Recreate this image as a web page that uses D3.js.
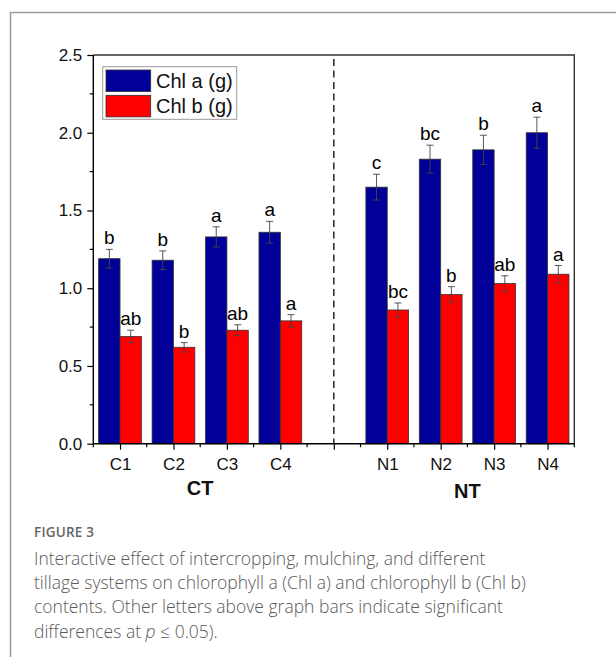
<!DOCTYPE html>
<html>
<head>
<meta charset="utf-8">
<script src="https://cdn.jsdelivr.net/npm/d3@7"></script>
<style>
  html, body { margin: 0; padding: 0; background: #fff; }
  svg { display: block; }
</style>
</head>
<body>
<svg id="fig" width="616" height="657"></svg>
<script>
// Treatments and their measured chlorophyll contents
const categories = ["C1", "C2", "C3", "C4", "N1", "N2", "N3", "N4"];
const positions  = [1, 2, 3, 4, 6, 7, 8, 9];   // slot 5 holds the CT / NT divider
const chlA       = [1.19, 1.18, 1.33, 1.36, 1.65, 1.83, 1.89, 2.00];
const chlAErr    = [0.06, 0.06, 0.065, 0.07, 0.083, 0.09, 0.094, 0.10];
const chlB       = [0.69, 0.62, 0.73, 0.79, 0.86, 0.96, 1.03, 1.09];
const chlBErr    = [0.04, 0.03, 0.035, 0.04, 0.045, 0.05, 0.05, 0.056];
const chlALetters = ["b", "b", "a", "a", "c", "bc", "b", "a"];
const chlBLetters = ["ab", "b", "ab", "a", "bc", "b", "ab", "a"];
const seriesNames = ["Chl a (g)", "Chl b (g)"];
const yTicks = [0.0, 0.5, 1.0, 1.5, 2.0, 2.5];
const groups = [{ name: "CT", at: 2.5 }, { name: "NT", at: 7.5 }];

const colors = ["#000099", "#ff0000"];
const svg = d3.select("#fig");

// Outer figure frame
svg.append("path")
  .attr("d", "M10.5,700 V12.5 H700")
  .attr("fill", "none").attr("stroke", "#9a9a9a").attr("stroke-width", 1.5);

const plotL = 93.3, plotR = 574.3, plotT = 55, plotB = 443.7;
const x = d3.scaleLinear().domain([0.5, 9.5]).range([plotL, plotR]);
const y = d3.scaleLinear().domain([0, 2.5]).range([plotB, plotT]);
const slot = x(2) - x(1);
const barW = slot * 0.4;

const tickFont = "'Liberation Sans', Arial, sans-serif";

// Frame top/right
svg.append("path")
  .attr("d", `M${plotL},${plotT} H${plotR} V${plotB}`)
  .attr("fill", "none").attr("stroke", "#333").attr("stroke-width", 1.4);

// Divider between tillage systems
svg.append("line")
  .attr("x1", x(5)).attr("x2", x(5)).attr("y1", plotT + 4).attr("y2", plotB)
  .attr("stroke", "#333").attr("stroke-width", 1.6).attr("stroke-dasharray", "7,4.5");

// Bars
const data = categories.map((c, i) => ({
  c, pos: positions[i],
  vals: [
    { v: chlA[i], e: chlAErr[i], l: chlALetters[i], s: 0 },
    { v: chlB[i], e: chlBErr[i], l: chlBLetters[i], s: 1 }
  ]
}));

const g = svg.append("g");
data.forEach(d => {
  d.vals.forEach(b => {
    const x0 = b.s === 0 ? x(d.pos) - barW : x(d.pos);
    const cx = x0 + barW / 2;
    g.append("rect")
      .attr("x", x0).attr("y", y(b.v))
      .attr("width", barW).attr("height", y(0) - y(b.v))
      .attr("fill", colors[b.s]).attr("stroke", "#333").attr("stroke-width", 0.8);
    // error bar
    const eg = g.append("g").attr("stroke", "#444").attr("stroke-width", 0.9);
    eg.append("line").attr("x1", cx).attr("x2", cx).attr("y1", y(b.v + b.e)).attr("y2", y(b.v - b.e));
    eg.append("line").attr("x1", cx - 3.5).attr("x2", cx + 3.5).attr("y1", y(b.v + b.e)).attr("y2", y(b.v + b.e));
    eg.append("line").attr("x1", cx - 3.5).attr("x2", cx + 3.5).attr("y1", y(b.v - b.e)).attr("y2", y(b.v - b.e));
    // significance letter
    g.append("text")
      .attr("x", cx).attr("y", y(b.v + b.e) - 5)
      .attr("text-anchor", "middle")
      .attr("font-family", tickFont).attr("font-size", 19)
      .attr("fill", "#000")
      .text(b.l);
  });
});

// Y axis
const yAxis = d3.axisLeft(y).tickValues(yTicks).tickFormat(d3.format(".1f")).tickSize(6).tickPadding(5);
const ya = svg.append("g").attr("transform", `translate(${plotL},0)`).call(yAxis);
ya.select(".domain").attr("stroke", "#000").attr("stroke-width", 1.4).attr("d", `M0,${plotT}V${plotB}`);
ya.selectAll(".tick line").attr("stroke", "#000").attr("stroke-width", 1.2);
ya.selectAll(".tick text").attr("font-family", tickFont).attr("font-size", 17).attr("fill", "#111");
const yMinor = d3.range(0.25, 2.5, 0.5);
svg.append("g").selectAll("line").data(yMinor).join("line")
  .attr("x1", plotL - 3.5).attr("x2", plotL).attr("y1", d => y(d)).attr("y2", d => y(d))
  .attr("stroke", "#000").attr("stroke-width", 1.2);

// X axis
const xAxis = d3.axisBottom(x)
  .tickValues(d3.range(1, 10))
  .tickFormat(d => { const i = positions.indexOf(d); return i >= 0 ? categories[i] : ""; })
  .tickSize(6).tickPadding(8);
const xa = svg.append("g").attr("transform", `translate(0,${plotB})`).call(xAxis);
xa.select(".domain").attr("stroke", "#000").attr("stroke-width", 1.4).attr("d", `M${plotL},0H${plotR}`);
xa.selectAll(".tick line").attr("stroke", "#000").attr("stroke-width", 1.2);
xa.selectAll(".tick text").attr("font-family", tickFont).attr("font-size", 17).attr("fill", "#111");
const xMinor = d3.range(0.5, 10, 1);
svg.append("g").selectAll("line").data(xMinor).join("line")
  .attr("x1", d => x(d)).attr("x2", d => x(d)).attr("y1", plotB).attr("y2", plotB + 3.5)
  .attr("stroke", "#000").attr("stroke-width", 1.2);

// Group labels
svg.append("g").selectAll("text").data(groups).join("text")
  .attr("x", d => x(d.at)).attr("y", (d, i) => 495 + i * 3)
  .attr("text-anchor", "middle")
  .attr("font-family", tickFont).attr("font-weight", "bold").attr("font-size", 20)
  .attr("fill", "#111")
  .text(d => d.name);

// Legend
const lg = svg.append("g");
lg.append("rect").attr("x", 102.7).attr("y", 66.7).attr("width", 134).attr("height", 52.6)
  .attr("fill", "#fff").attr("stroke", "#999").attr("stroke-width", 1);
seriesNames.forEach((n, i) => {
  lg.append("rect").attr("x", 106).attr("y", 70 + i * 25.3).attr("width", 44.7).attr("height", 21.6)
    .attr("fill", colors[i]).attr("stroke", "#333").attr("stroke-width", 0.8);
  lg.append("text").attr("x", 156).attr("y", 88 + i * 25.3)
    .attr("font-family", tickFont).attr("font-size", 20).attr("fill", "#111")
    .text(n);
});

// Caption
const capFont = "'Open Sans', 'Noto Sans', sans-serif";
svg.append("text").attr("x", 34).attr("y", 537)
  .attr("font-family", capFont).attr("font-size", 13.5).attr("font-weight", 600)
  .attr("fill", "#666").attr("letter-spacing", 0.2)
  .text("FIGURE 3");
const capLines = [
  "Interactive effect of intercropping, mulching, and different",
  "tillage systems on chlorophyll a (Chl a) and chlorophyll b (Chl b)",
  "contents. Other letters above graph bars indicate significant"
];
const cap = svg.append("g").attr("font-family", capFont).attr("font-size", 17.5)
  .attr("font-weight", 300).attr("fill", "#5a5a5a");
capLines.forEach((t, i) => {
  cap.append("text").attr("x", 34).attr("y", 565 + i * 24.2).text(t);
});
const last = cap.append("text").attr("x", 34).attr("y", 565 + 3 * 24.2);
last.append("tspan").text("differences at ");
last.append("tspan").attr("font-style", "italic").text("p");
last.append("tspan").text(" ≤ 0.05).");
</script>
</body>
</html>
